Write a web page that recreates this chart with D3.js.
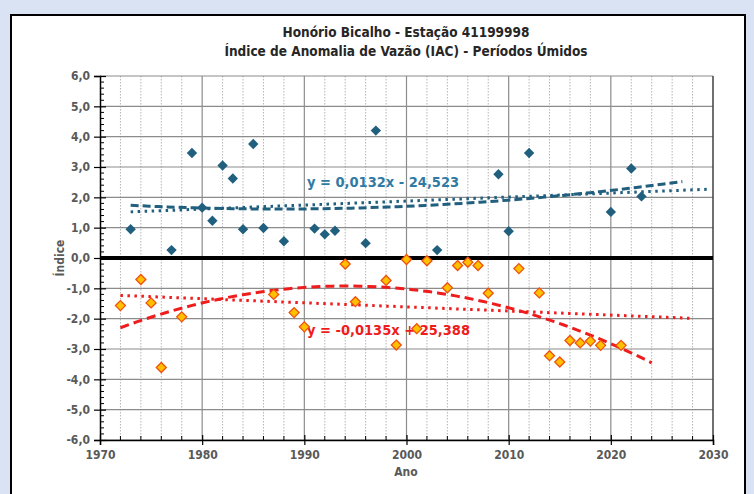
<!DOCTYPE html>
<html>
<head>
<meta charset="utf-8">
<script src="https://cdn.jsdelivr.net/npm/d3@7"></script>
<style>
  html, body { margin: 0; padding: 0; background: #dae3f3; }
  svg { display: block; }
  text { font-family: "Liberation Sans Narrow", "DejaVu Sans Condensed", "Roboto Condensed", sans-serif; }
</style>
</head>
<body>
<svg id="chart" width="754" height="494"></svg>
<script>
// Wet-period streamflow anomaly index (IAC), station 41199998
const wetYears   = [1973, 1977, 1979, 1980, 1981, 1982, 1983, 1984, 1985, 1986, 1988, 1991, 1992, 1993, 1996, 1997, 2003, 2009, 2010, 2012, 2020, 2022, 2023];
const wetValues  = [0.95, 0.26, 3.46, 1.66, 1.23, 3.05, 2.62, 0.95, 3.76, 0.99, 0.55, 0.97, 0.78, 0.90, 0.49, 4.20, 0.26, 2.76, 0.88, 3.46, 1.52, 2.95, 2.03];

const dryYears   = [1972, 1974, 1975, 1976, 1978, 1987, 1989, 1990, 1994, 1995, 1998, 1999, 2000, 2001, 2002, 2004, 2005, 2006, 2007, 2008, 2011, 2013, 2014, 2015, 2016, 2017, 2018, 2019, 2021];
const dryValues  = [-1.57, -0.71, -1.48, -3.61, -1.94, -1.20, -1.80, -2.27, -0.20, -1.44, -0.74, -2.87, -0.05, -2.33, -0.09, -0.98, -0.25, -0.14, -0.25, -1.16, -0.35, -1.15, -3.22, -3.43, -2.72, -2.80, -2.74, -2.88, -2.88];

// Linear trend coefficients [slope, intercept] as printed on the chart
const wetLinear = [0.0132, -24.523];
const dryLinear = [-0.0135, 25.388];

// Year spans covered by each trend line (including forward projection)
const wetLinearSpan = [1973, 2029.6];
const dryLinearSpan = [1972, 2028];
const wetPolySpan   = [1973, 2027];
const dryPolySpan   = [1972, 2024];

const yTicks = [-6, -5, -4, -3, -2, -1, 0, 1, 2, 3, 4, 5, 6];
const xTicks = [1970, 1980, 1990, 2000, 2010, 2020, 2030];

const titleLines = ["Honório Bicalho -  Estação 41199998", "Índice de Anomalia de Vazão (IAC) - Períodos Úmidos"];

const svg = d3.select("#chart");
const margin = { left: 100, right: 41, top: 76, bottom: 54 };
const W = 754, H = 494;

// Outer frame
svg.append("rect").attr("x", 0).attr("y", 0).attr("width", W).attr("height", H).attr("fill", "#dae3f3");
svg.append("rect").attr("x", 11).attr("y", 15).attr("width", 734).attr("height", 500)
  .attr("fill", "#ffffff").attr("stroke", "#000").attr("stroke-width", 2);

const x = d3.scaleLinear().domain([1970, 2030]).range([margin.left, W - margin.right]);
const y = d3.scaleLinear().domain([-6, 6]).range([H - margin.bottom, margin.top]);
const fmt = v => d3.format(".1f")(v).replace(".", ",").replace("−", "-");
const dec = v => String(v).replace(".", ",");

// Title
titleLines.forEach((t, i) => {
  svg.append("text").attr("x", 406).attr("y", 37 + i * 19)
    .attr("text-anchor", "middle").attr("font-size", 13.5).attr("font-weight", "bold")
    .attr("fill", "#262626").text(t);
});

const grid = svg.append("g");
// minor vertical dotted grid, every 2 years
d3.range(1972, 2030, 2).filter(v => v % 10 !== 0).forEach(v => {
  grid.append("line").attr("x1", x(v)).attr("x2", x(v)).attr("y1", y(6)).attr("y2", y(-6))
    .attr("stroke", "#b4b4b4").attr("stroke-width", 1).attr("stroke-dasharray", "1.5,1.5");
});
// major vertical grid
xTicks.slice(1, -1).forEach(v => {
  grid.append("line").attr("x1", x(v)).attr("x2", x(v)).attr("y1", y(6)).attr("y2", y(-6))
    .attr("stroke", "#8c8c8c").attr("stroke-width", 1.2);
});
// horizontal grid
yTicks.forEach(v => {
  grid.append("line").attr("x1", x(1970)).attr("x2", x(2030)).attr("y1", y(v)).attr("y2", y(v))
    .attr("stroke", "#8c8c8c").attr("stroke-width", 1.2);
});
// plot-area right border
grid.append("line").attr("x1", x(2030)).attr("x2", x(2030)).attr("y1", y(6)).attr("y2", y(-6))
  .attr("stroke", "#404040").attr("stroke-width", 1.5);

// Y axis with minor ticks
const yAxis = d3.axisLeft(y).tickValues(yTicks).tickFormat(fmt).tickSize(6).tickPadding(4);
const gy = svg.append("g").attr("transform", `translate(${x(1970)},0)`).call(yAxis);
gy.select(".domain").attr("stroke", "#000").attr("stroke-width", 1.5);
gy.selectAll(".tick line").attr("stroke", "#000").attr("stroke-width", 1.2).attr("x2", 6).attr("x1", -6);
gy.selectAll(".tick text").attr("font-size", 12).attr("font-weight", "bold").attr("fill", "#595959")
  .attr("font-family", "'Liberation Sans Narrow','DejaVu Sans Condensed',sans-serif");
d3.range(-6, 6.001, 0.2).forEach(v => {
  if (Math.abs(v - Math.round(v)) < 1e-6) return;
  svg.append("line").attr("x1", x(1970)).attr("x2", x(1970) + 4).attr("y1", y(v)).attr("y2", y(v))
    .attr("stroke", "#000").attr("stroke-width", 1);
});

// X axis with minor ticks
const xAxis = d3.axisBottom(x).tickValues(xTicks).tickFormat(d3.format("d")).tickSize(5).tickPadding(5);
const gx = svg.append("g").attr("transform", `translate(0,${y(-6)})`).call(xAxis);
gx.select(".domain").attr("stroke", "#000").attr("stroke-width", 1.5);
gx.selectAll(".tick line").attr("stroke", "#000").attr("stroke-width", 1.2).attr("y1", -5).attr("y2", 5);
gx.selectAll(".tick text").attr("font-size", 12).attr("font-weight", "bold").attr("fill", "#595959")
  .attr("font-family", "'Liberation Sans Narrow','DejaVu Sans Condensed',sans-serif");
d3.range(1972, 2030, 2).filter(v => v % 10 !== 0).forEach(v => {
  svg.append("line").attr("x1", x(v)).attr("x2", x(v)).attr("y1", y(-6)).attr("y2", y(-6) - 4)
    .attr("stroke", "#000").attr("stroke-width", 1);
});

// Axis titles
svg.append("text").attr("x", 406).attr("y", 476).attr("text-anchor", "middle")
  .attr("font-size", 12).attr("font-weight", "bold").attr("fill", "#595959").text("Ano");
svg.append("text").attr("transform", `translate(64,${y(0)}) rotate(-90)`).attr("text-anchor", "middle")
  .attr("font-size", 12).attr("font-weight", "bold").attr("fill", "#595959").text("Índice");

// Zero reference line
svg.append("line").attr("x1", x(1970)).attr("x2", x(2030)).attr("y1", y(0)).attr("y2", y(0))
  .attr("stroke", "#000").attr("stroke-width", 4);

// Least-squares quadratic fit (centred on 2000)
function quadFit(xs, ys) {
  const s = [0, 0, 0, 0, 0], t = [0, 0, 0];
  xs.forEach((xv, i) => {
    const u = xv - 2000;
    for (let k = 0; k < 5; k++) s[k] += Math.pow(u, k);
    for (let k = 0; k < 3; k++) t[k] += ys[i] * Math.pow(u, k);
  });
  const M = [[s[0], s[1], s[2]], [s[1], s[2], s[3]], [s[2], s[3], s[4]]];
  const det = m => m[0][0] * (m[1][1] * m[2][2] - m[1][2] * m[2][1])
    - m[0][1] * (m[1][0] * m[2][2] - m[1][2] * m[2][0])
    + m[0][2] * (m[1][0] * m[2][1] - m[1][1] * m[2][0]);
  const D = det(M);
  const coef = [0, 1, 2].map(c => det(M.map((row, r) => row.map((v, j) => j === c ? t[r] : v))) / D);
  return yr => coef[0] + coef[1] * (yr - 2000) + coef[2] * (yr - 2000) * (yr - 2000);
}
const wetPoly = quadFit(wetYears, wetValues);
const dryPoly = quadFit(dryYears, dryValues);

const line = d3.line().x(d => x(d[0])).y(d => y(d[1]));
function sample(span, f) {
  const n = 60, pts = [];
  for (let i = 0; i <= n; i++) { const yr = span[0] + (span[1] - span[0]) * i / n; pts.push([yr, f(yr)]); }
  return pts;
}
const lin = c => yr => c[0] * yr + c[1];

// Trend lines
svg.append("path").attr("d", line(sample(wetPolySpan, wetPoly))).attr("fill", "none")
  .attr("stroke", "#215f7f").attr("stroke-width", 3).attr("stroke-dasharray", "8,4");
svg.append("path").attr("d", line(sample(wetLinearSpan, lin(wetLinear)))).attr("fill", "none")
  .attr("stroke", "#215f7f").attr("stroke-width", 3).attr("stroke-dasharray", "2.5,4.5");
svg.append("path").attr("d", line(sample(dryPolySpan, dryPoly))).attr("fill", "none")
  .attr("stroke", "#ee1c1c").attr("stroke-width", 3).attr("stroke-dasharray", "9,5");
svg.append("path").attr("d", line(sample(dryLinearSpan, lin(dryLinear)))).attr("fill", "none")
  .attr("stroke", "#ee1c1c").attr("stroke-width", 3).attr("stroke-dasharray", "2.5,4.5");

// Trend equation labels
svg.append("text").attr("x", 307).attr("y", 187).attr("font-size", 14.5).attr("font-weight", "bold")
  .attr("fill", "#2f7ba3").text(`y = ${dec(wetLinear[0])}x - ${dec(Math.abs(wetLinear[1]))}`);
svg.append("text").attr("x", 307).attr("y", 335).attr("font-size", 14.5).attr("font-weight", "bold")
  .attr("fill", "#ee1c1c").text(`y = ${dec(dryLinear[0])}x + ${dec(dryLinear[1])}`);

// Square diamond marker (half-diagonal r)
const squareDiamond = {
  draw(ctx, size) {
    const r = Math.sqrt(size / 2);
    ctx.moveTo(0, -r); ctx.lineTo(r, 0); ctx.lineTo(0, r); ctx.lineTo(-r, 0); ctx.closePath();
  }
};
const sym = d3.symbol().type(squareDiamond);

svg.append("g").selectAll("path").data(wetYears.map((yr, i) => [yr, wetValues[i]])).join("path")
  .attr("d", sym.size(2 * 5.2 * 5.2)).attr("transform", d => `translate(${x(d[0])},${y(d[1])})`)
  .attr("fill", "#215f7f");

svg.append("g").selectAll("path").data(dryYears.map((yr, i) => [yr, dryValues[i]])).join("path")
  .attr("d", sym.size(2 * 5 * 5)).attr("transform", d => `translate(${x(d[0])},${y(d[1])})`)
  .attr("fill", "#ffc000").attr("stroke", "#f0500a").attr("stroke-width", 1.3);
</script>
</body>
</html>
